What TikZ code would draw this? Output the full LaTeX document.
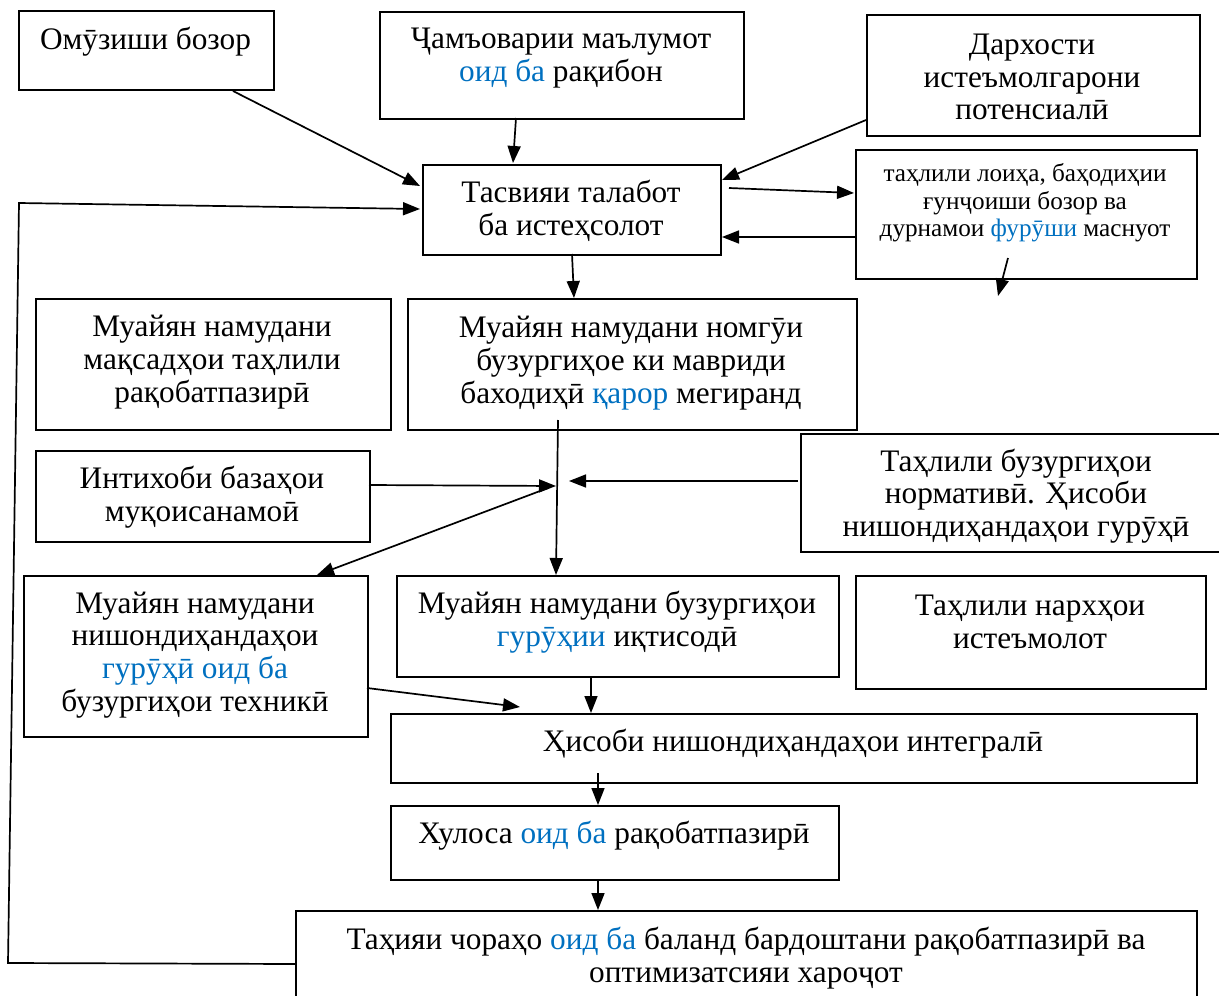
\documentclass[tikz,border=0pt]{standalone}
\usepackage{fontspec}
\setmainfont{Liberation Serif}
\usetikzlibrary{arrows.meta}
\definecolor{tblue}{RGB}{0,112,192}
\newcommand{\bl}[1]{\textcolor{tblue}{#1}}
\begin{document}
\begin{tikzpicture}[x=1pt,y=-1pt,
  boxs/.style={draw,line width=1.9pt,inner sep=0pt,anchor=north west},
  txt/.style={align=center,inner sep=0pt,yshift=-2pt,font=\fontsize{31.3}{32.7}\selectfont},
  stxt/.style={align=center,inner sep=0pt,yshift=-2pt,font=\fontsize{25.2}{27.5}\selectfont},
  arr/.style={line width=1.7pt,-{Triangle[length=17pt,width=13pt]}},
  ln/.style={line width=1.7pt}]
\useasboundingbox (0,0) rectangle (1219,996);
\clip (0,0) rectangle (1219,996);
% boxes
\node[boxs,minimum width=255pt,minimum height=79pt] (b1) at (18,10) {};
\node[boxs,minimum width=364pt,minimum height=107pt] (b2) at (379,11) {};
\node[boxs,minimum width=333pt,minimum height=121pt] (b3) at (866,14) {};
\node[boxs,minimum width=298pt,minimum height=90pt] (b4) at (422,164) {};
\node[boxs,minimum width=341pt,minimum height=129pt] (b5) at (855,149) {};
\node[boxs,minimum width=355pt,minimum height=131pt] (b6) at (35,298) {};
\node[boxs,minimum width=449pt,minimum height=131pt] (b7) at (407,298) {};
\node[boxs,minimum width=334pt,minimum height=91pt] (b8) at (35,450) {};
\node[boxs,minimum width=425pt,minimum height=118pt] (b9) at (800,433) {};
\node[boxs,minimum width=344pt,minimum height=161pt] (b10) at (23,575) {};
\node[boxs,minimum width=442pt,minimum height=101pt] (b11) at (396,575) {};
\node[boxs,minimum width=350pt,minimum height=113pt] (b12) at (855,575) {};
\node[boxs,minimum width=806pt,minimum height=69pt] (b13) at (390,713) {};
\node[boxs,minimum width=448pt,minimum height=74pt] (b14) at (390,805) {};
\node[boxs,minimum width=901pt,minimum height=100pt] (b15) at (295,910) {};
% texts
\node[txt] (t1) at (145.5,40) {Омӯзиши бозор};
\node[txt] (t2) at (561,56) {Ҷамъоварии маълумот\\\bl{оид ба} рақибон};
\node[txt] (t3) at (1032,75) {Дархости\\истеъмолгарони\\потенсиалӣ};
\node[txt] (t4) at (571,209) {Тасвияи талабот\\ба истеҳсолот};
\node[stxt] (t5) at (1025,201) {таҳлили лоиҳа, баҳодиҳии\\ғунҷоиши бозор ва\\дурнамои \bl{фурӯши} маснуот};
\node[txt] (t6) at (212,360) {Муайян намудани\\мақсадҳои таҳлили\\рақобатпазирӣ};
\node[txt] (t7) at (631,361) {Муайян намудани номгӯи\\бузургиҳое ки мавриди\\баходиҳӣ \bl{қарор} мегиранд};
\node[txt] (t8) at (202,495) {Интихоби базаҳои\\муқоисанамоӣ};
\node[txt] (t9) at (1016,494) {Таҳлили бузургиҳои\\нормативӣ. Ҳисоби\\нишондиҳандаҳои гурӯҳӣ};
\node[txt] (t10) at (195,653) {Муайян намудани\\нишондиҳандаҳои\\\bl{гурӯҳӣ оид ба}\\бузургиҳои техникӣ};
\node[txt] (t11) at (617,620) {Муайян намудани бузургиҳои\\\bl{гурӯҳии} иқтисодӣ};
\node[txt] (t12) at (1030,620) {Таҳлили нархҳои\\истеъмолот};
\node[txt] (t13) at (793,742) {Ҳисоби нишондиҳандаҳои интегралӣ};
\node[txt] (t14) at (614,834) {Хулоса \bl{оид ба} рақобатпазирӣ};
\node[txt] (t15) at (746,956) {Таҳияи чораҳо \bl{оид ба} баланд бардоштани рақобатпазирӣ ва\\оптимизатсияи хароҷот};
% helper coordinates
\coordinate (c1) at (233,91);
\coordinate (c2) at (420,186);
\coordinate (c3) at (516,118);
\coordinate (c4) at (513,163);
\coordinate (c5) at (866,120);
\coordinate (c6) at (722,180);
\coordinate (c7) at (729,188);
\coordinate (c8) at (854,193);
\coordinate (c9) at (855,237);
\coordinate (c10) at (722,237);
\coordinate (c11) at (1008,258);
\coordinate (c12) at (998,296);
\coordinate (c13) at (572,254);
\coordinate (c14) at (574,298);
\coordinate (c15) at (558,420);
\coordinate (c16) at (556,575);
\coordinate (c17) at (369,485);
\coordinate (c18) at (556,486);
\coordinate (c19) at (798,481);
\coordinate (c20) at (569,481);
\coordinate (c21) at (548,488);
\coordinate (c22) at (317,575);
\coordinate (c23) at (367,688);
\coordinate (c24) at (520,707);
\coordinate (c25) at (591,676);
\coordinate (c26) at (591,713);
\coordinate (c27) at (598,773);
\coordinate (c28) at (598,805);
\coordinate (c29) at (598,880);
\coordinate (c30) at (598,910);
\coordinate (f1) at (295,964);
\coordinate (f2) at (8,963);
\coordinate (f3) at (19,203);
\coordinate (f4) at (420,209);
% connectors
\draw[arr] (c1) -- (c2);
\draw[arr] (c3) -- (c4);
\draw[arr] (c5) -- (c6);
\draw[arr] (c7) -- (c8);
\draw[arr] (c9) -- (c10);
\draw[arr] (c11) -- (c12);
\draw[arr] (c13) -- (c14);
\draw[arr] (c15) -- (c16);
\draw[arr] (c17) -- (c18);
\draw[arr] (c19) -- (c20);
\draw[arr] (c21) -- (c22);
\draw[arr] (c23) -- (c24);
\draw[arr] (c25) -- (c26);
\draw[arr] (c27) -- (c28);
\draw[arr] (c29) -- (c30);
\draw[arr] (f1) -- (f2) -- (f3) -- (f4);
\end{tikzpicture}
\end{document}
